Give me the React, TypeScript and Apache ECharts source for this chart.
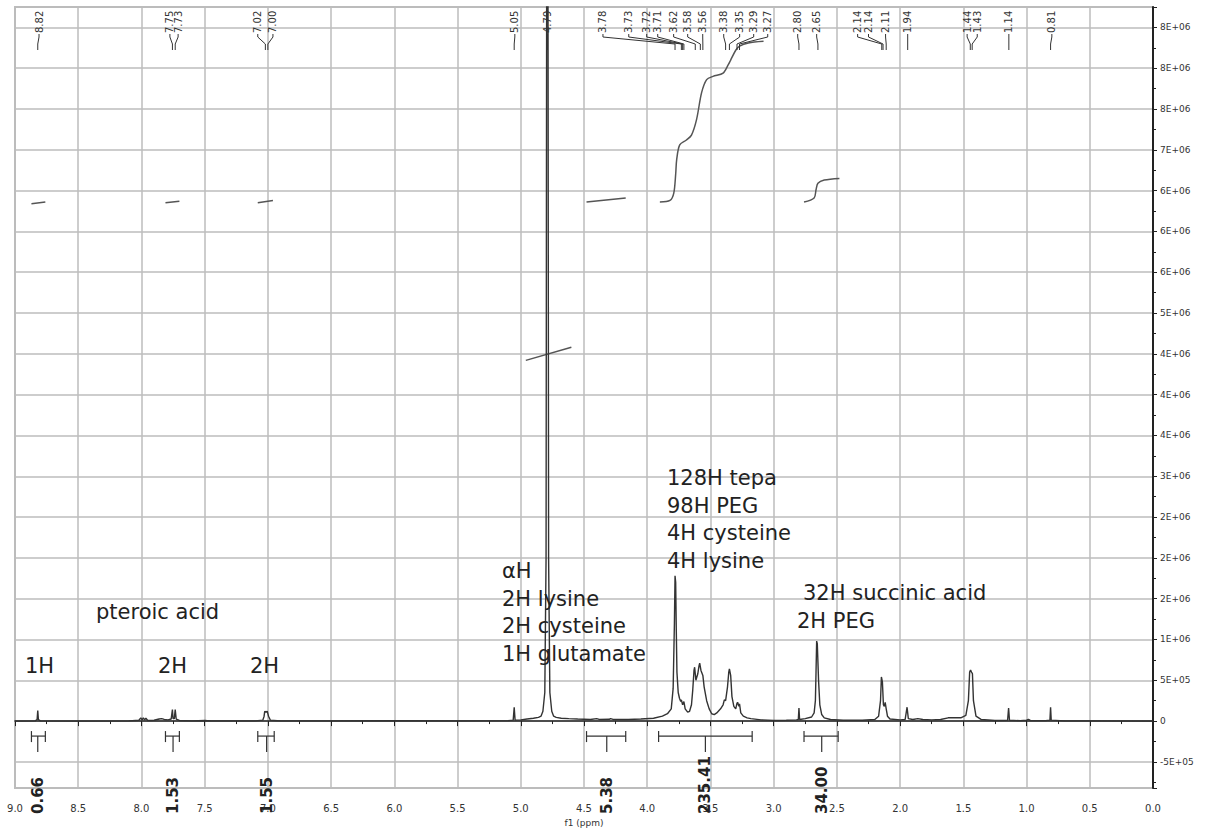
import React, { useEffect, useRef } from "react";
import * as echarts from "echarts";

// ---------- spectrum trace (ppm, intensity) ----------
const specPpm = [
  9.0, 8.84, 8.825, 8.82, 8.815, 8.8, 8.5, 8.1, 8.02, 8.005, 7.995, 7.985, 7.975, 7.965, 7.95, 7.9, 7.86, 7.84, 7.82, 7.79,
  7.765, 7.755, 7.75, 7.74, 7.733, 7.725, 7.7, 7.6, 7.5, 7.45, 7.1, 7.04, 7.03, 7.025, 7.015, 7.005, 6.995, 6.98, 6.9, 6.5,
  6.0, 5.5, 5.1, 5.06, 5.052, 5.045, 5.0, 4.95, 4.9, 4.86, 4.84, 4.825, 4.81, 4.8, 4.795, 4.785, 4.78, 4.77, 4.755, 4.74, 4.72, 4.68,
  4.62, 4.55, 4.45, 4.4, 4.38, 4.3, 4.29, 4.27, 4.15, 4.05, 3.95, 3.88, 3.84, 3.81, 3.795, 3.785, 3.78, 3.775, 3.77, 3.765,
  3.755, 3.745, 3.735, 3.73, 3.72, 3.71, 3.7, 3.68, 3.665, 3.65, 3.64, 3.63, 3.625, 3.615, 3.6, 3.59, 3.585, 3.575, 3.56, 3.55,
  3.53, 3.51, 3.49, 3.47, 3.45, 3.42, 3.4, 3.39, 3.38, 3.365, 3.355, 3.35, 3.34, 3.33, 3.315, 3.3, 3.29, 3.285, 3.275, 3.27,
  3.26, 3.24, 3.21, 3.18, 3.1, 3.0, 2.9, 2.82, 2.805, 2.8, 2.795, 2.75, 2.7, 2.68, 2.67, 2.665, 2.66, 2.655, 2.645, 2.635,
  2.62, 2.6, 2.55, 2.45, 2.3, 2.2, 2.17, 2.155, 2.148, 2.14, 2.132, 2.125, 2.118, 2.11, 2.1, 2.08, 2.0, 1.96, 1.945, 1.935,
  1.9, 1.86, 1.82, 1.75, 1.68, 1.62, 1.58, 1.52, 1.48, 1.46, 1.45, 1.443, 1.435, 1.428, 1.42, 1.4, 1.36, 1.25, 1.15, 1.142,
  1.135, 1.05, 1.0, 0.985, 0.97, 0.85, 0.815, 0.81, 0.805, 0.7, 0.5, 0.0,
];
const specInt = [
  0, 3000, 20000, 130000, 20000, 3000, 0, 3000, 10000, 40000, 15000, 40000, 15000, 35000, 8000, 10000, 25000, 30000, 20000, 15000,
  25000, 140000, 30000, 30000, 140000, 25000, 8000, 3000, 8000, 2000, 3000, 12000, 60000, 120000, 110000, 120000, 60000, 10000, 3000, 2000,
  4000, 3000, 6000, 12000, 170000, 12000, 15000, 25000, 35000, 45000, 60000, 120000, 350000, 2000000, 9500000, 9500000, 2000000, 350000, 120000, 60000, 45000, 35000,
  30000, 25000, 20000, 30000, 20000, 22000, 30000, 20000, 20000, 25000, 35000, 60000, 90000, 150000, 400000, 1200000, 1780000, 1700000, 1100000, 600000,
  350000, 280000, 240000, 260000, 200000, 240000, 150000, 110000, 120000, 200000, 380000, 620000, 660000, 500000, 580000, 680000, 710000, 620000, 560000, 420000,
  250000, 150000, 90000, 80000, 100000, 150000, 200000, 260000, 250000, 420000, 600000, 640000, 560000, 300000, 180000, 150000, 220000, 230000, 180000, 210000,
  100000, 60000, 40000, 30000, 15000, 8000, 10000, 15000, 20000, 160000, 20000, 30000, 50000, 100000, 250000, 600000, 980000, 950000, 500000, 200000,
  80000, 40000, 20000, 10000, 10000, 20000, 60000, 250000, 540000, 480000, 200000, 180000, 230000, 150000, 60000, 25000, 15000, 20000, 170000, 30000,
  20000, 30000, 20000, 15000, 20000, 40000, 40000, 40000, 70000, 250000, 600000, 625000, 600000, 580000, 250000, 60000, 20000, 8000, 10000, 160000,
  10000, 5000, 10000, 20000, 8000, 5000, 12000, 170000, 12000, 3000, 2000, 0,
];

// ---------- integral curves ----------
const int1Ppm = [8.87, 8.76];
const int1Val = [6340000, 6360000];
const int2Ppm = [7.81, 7.7];
const int2Val = [6350000, 6370000];
const int3Ppm = [7.08, 6.96];
const int3Val = [6350000, 6380000];
const int4Ppm = [4.96, 4.6];
const int4Val = [4420000, 4580000];
const int5Ppm = [4.48, 4.17];
const int5Val = [6360000, 6410000];
const int6Ppm = [3.9, 3.82, 3.79, 3.775, 3.767, 3.743, 3.69, 3.65, 3.61, 3.57, 3.53, 3.48, 3.4, 3.36, 3.34, 3.3, 3.27, 3.2, 3.08];
const int6Val = [6360000, 6380000, 6470000, 6700000, 6880000, 7060000, 7120000, 7180000, 7370000, 7700000, 7860000, 7900000, 7940000, 8040000, 8100000, 8220000, 8270000, 8310000, 8330000];
const int7Ppm = [2.76, 2.68, 2.665, 2.65, 2.6, 2.48];
const int7Val = [6360000, 6410000, 6510000, 6590000, 6630000, 6650000];

// ---------- peak picking labels ----------
const peakLabelTexts = [
  "8.82", "7.75", "7.73", "7.02", "7.00", "5.05", "4.79", "3.78", "3.73", "3.72", "3.71", "3.62", "3.58", "3.56",
  "3.38", "3.35", "3.29", "3.27", "2.80", "2.65", "2.14", "2.14", "2.11", "1.94", "1.44", "1.43", "1.14", "0.81",
];
const peakPositions = [
  8.82, 7.755, 7.733, 7.02, 7.0, 5.052, 4.79, 3.78, 3.73, 3.72, 3.71, 3.62, 3.58, 3.56,
  3.38, 3.35, 3.29, 3.27, 2.8, 2.65, 2.145, 2.135, 2.11, 1.94, 1.445, 1.43, 1.14, 0.81,
];
const peakLabelAnchors = [
  8.81, 7.775, 7.71, 7.08, 6.96, 5.047, 4.79, 4.35, 4.146, 4.004, 3.917, 3.791, 3.68, 3.561,
  3.395, 3.269, 3.158, 3.047, 2.81, 2.66, 2.336, 2.25, 2.115, 1.94, 1.47, 1.39, 1.14, 0.8,
];

// ---------- integration brackets ----------
const integralLeft = [8.87, 7.81, 7.08, 4.48, 3.91, 2.76];
const integralRight = [8.76, 7.7, 6.95, 4.17, 3.17, 2.49];
const integralCenter = [8.82, 7.75, 7.01, 4.32, 3.54, 2.62];
const integralValues = ["0.66", "1.53", "1.55", "5.38", "235.41", "34.00"];

// ---------- axis tick labels ----------
const yTickLabels = [
  "-5E+05", "0", "5E+05", "1E+06", "2E+06", "2E+06", "2E+06", "3E+06", "4E+06", "4E+06",
  "4E+06", "5E+06", "6E+06", "6E+06", "6E+06", "7E+06", "8E+06", "8E+06", "8E+06",
];

// ---------- annotations ----------
const annotations = [
  { text: "1H", x: 25, y: 666 },
  { text: "pteroic acid", x: 96, y: 612 },
  { text: "2H", x: 158, y: 666 },
  { text: "2H", x: 250, y: 666 },
  { text: "αH\n2H lysine\n2H cysteine\n1H glutamate", x: 502, y: 571 },
  { text: "128H tepa\n98H PEG\n4H cysteine\n4H lysine", x: 667, y: 478 },
  { text: "32H succinic acid", x: 803, y: 593 },
  { text: "2H PEG", x: 797, y: 621 },
];

const FONT = "DejaVu Sans";

function pairs(a: number[], b: number[]) {
  return a.map((v, i) => [v, b[i]]);
}

export default function App() {
  const ref = useRef<HTMLDivElement>(null);
  useEffect(() => {
    if (!ref.current) return;
    const chart = echarts.init(ref.current, null, { renderer: "svg" });
    const gridColor = "#bdbdbd";
    const integralStyle = { color: "#555", width: 1.5 };
    const integralSeries = [
      [int1Ppm, int1Val], [int2Ppm, int2Val], [int3Ppm, int3Val], [int4Ppm, int4Val],
      [int5Ppm, int5Val], [int6Ppm, int6Val], [int7Ppm, int7Val],
    ].map(([p, v]) => ({
      type: "line",
      data: pairs(p as number[], v as number[]),
      showSymbol: false,
      smooth: 0.3,
      lineStyle: integralStyle,
      silent: true,
      z: 3,
    }));

    chart.setOption({
      animation: false,
      grid: { left: 15, right: 59, top: 7, bottom: 46, show: true, borderColor: gridColor, borderWidth: 2, backgroundColor: "#fff" },
      xAxis: {
        type: "value",
        min: 0,
        max: 9,
        interval: 0.5,
        inverse: true,
        position: "bottom",
        offset: 6,
        name: "f1 (ppm)",
        nameLocation: "middle",
        nameGap: 24,
        nameTextStyle: { fontSize: 9, color: "#333", fontFamily: FONT },
        axisLine: { show: true, lineStyle: { color: "#222", width: 1.5 } },
        axisTick: { show: true, length: 5, lineStyle: { color: "#222" } },
        minorTick: { show: true, splitNumber: 2, length: 3, lineStyle: { color: "#222" } },
        axisLabel: { fontSize: 10, color: "#333", fontFamily: FONT, margin: 9, formatter: (v: number) => v.toFixed(1) },
        splitLine: { show: true, lineStyle: { color: gridColor, width: 1.5 } },
      },
      yAxis: {
        type: "value",
        position: "right",
        offset: 4,
        min: -820000,
        max: 8750000,
        splitNumber: 19,
        minInterval: 500000,
        maxInterval: 500000,
        axisLine: { show: true, lineStyle: { color: "#222", width: 2 } },
        axisTick: { show: true, length: 4, lineStyle: { color: "#222" } },
        minorTick: { show: true, splitNumber: 2, length: 3, lineStyle: { color: "#222" } },
        axisLabel: {
          fontSize: 9,
          color: "#333",
          fontFamily: FONT,
          margin: 3,
          showMinLabel: false,
          showMaxLabel: false,
          formatter: (v: number) => {
            const k = v / 500000;
            if (Math.abs(k - Math.round(k)) > 1e-6) return "";
            return yTickLabels[Math.round(k) + 1] ?? "";
          },
        },
        splitLine: { show: true, lineStyle: { color: gridColor, width: 1.5 } },
      },
      series: [
        {
          type: "line",
          data: pairs(specPpm, specInt),
          showSymbol: false,
          lineStyle: { color: "#333", width: 1.4 },
          clip: true,
          silent: true,
          z: 4,
        },
        ...integralSeries,
        {
          type: "custom",
          clip: false,
          silent: true,
          z: 5,
          data: peakPositions.map((p, i) => [p, peakLabelAnchors[i]]),
          renderItem: (params: any, api: any) => {
            const idx = params.dataIndex;
            const px = api.coord([api.value(0), 0])[0];
            const lx = api.coord([api.value(1), 0])[0];
            const top = params.coordSys.y;
            return {
              type: "group",
              children: [
                {
                  type: "text",
                  x: lx,
                  y: top + 26,
                  rotation: Math.PI / 2,
                  style: { text: peakLabelTexts[idx], fontSize: 10, fontFamily: FONT, fill: "#333", align: "left", verticalAlign: "middle" },
                },
                {
                  type: "polyline",
                  shape: { points: [[lx, top + 27], [lx, top + 30], [px, top + 37], [px, top + 43]] },
                  style: { stroke: "#333", lineWidth: 1, fill: null },
                },
              ],
            };
          },
        },
        {
          type: "custom",
          clip: false,
          silent: true,
          z: 5,
          data: integralLeft.map((l, i) => [l, integralRight[i], integralCenter[i]]),
          renderItem: (params: any, api: any) => {
            const idx = params.dataIndex;
            const l = api.coord([api.value(0), 0]);
            const r = api.coord([api.value(1), 0]);
            const c = api.coord([api.value(2), 0]);
            const by = l[1] + 15;
            const st = { stroke: "#333", lineWidth: 1.2 };
            const bottom = params.coordSys.y + params.coordSys.height;
            return {
              type: "group",
              children: [
                { type: "line", shape: { x1: l[0], y1: by, x2: r[0], y2: by }, style: st },
                { type: "line", shape: { x1: l[0], y1: by - 5, x2: l[0], y2: by + 6 }, style: st },
                { type: "line", shape: { x1: r[0], y1: by - 5, x2: r[0], y2: by + 6 }, style: st },
                { type: "line", shape: { x1: c[0], y1: by, x2: c[0], y2: by + 16 }, style: st },
                {
                  type: "text",
                  x: c[0],
                  y: bottom + 26,
                  rotation: Math.PI / 2,
                  style: { text: integralValues[idx], fontSize: 15, fontWeight: "bold", fontFamily: FONT, fill: "#222", align: "left", verticalAlign: "middle" },
                },
              ],
            };
          },
        },
      ],
      graphic: annotations.map((a) => ({
        type: "text",
        x: a.x,
        y: a.y - 13.75,
        z: 10,
        style: { text: a.text, fontSize: 21, fontFamily: FONT, fill: "#222", lineHeight: 27.5, align: "left", verticalAlign: "top" },
      })),
    });
    return () => chart.dispose();
  }, []);
  return <div ref={ref} style={{ position: "absolute", left: 0, top: 0, width: 1212, height: 834 }} />;
}
